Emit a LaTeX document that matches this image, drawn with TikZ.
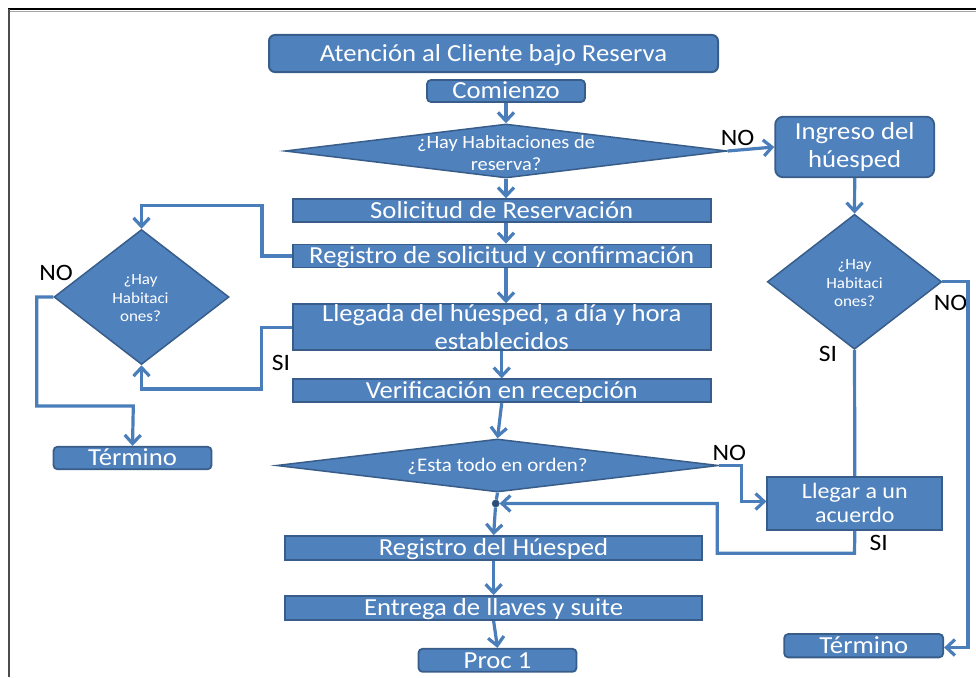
\documentclass[tikz,border=0pt]{standalone}
\usepackage{fontspec}
\setmainfont{Carlito}[FakeStretch=1.09]
\usetikzlibrary{arrows.meta,shapes.geometric}

\definecolor{boxfill}{HTML}{4F81BD}
\definecolor{boxline}{HTML}{385D8A}
\definecolor{wire}{HTML}{4A7EBB}
\definecolor{dotfill}{HTML}{2C4D75}

\newcommand\bigtxt{\fontsize{24.5}{28.6}\selectfont}
\newcommand\midtxt{\fontsize{22}{24}\selectfont}
\newcommand\qtxt{\fontsize{18.7}{22}\selectfont}
\newcommand\qqtxt{\fontsize{19.2}{22}\selectfont}
\newcommand\smalltxt{\fontsize{15.6}{18.5}\selectfont}
\newcommand\lbltxt{\fontsize{23.5}{26}\selectfont}

\tikzset{
  box/.style={draw=boxline, fill=boxfill, line width=1.8pt, text=white,
    inner sep=0pt, font=\bigtxt, align=center},
  oneline/.style={text height=15.8pt, text depth=0pt},
  rbox/.style={box, rounded corners=5pt},
  dia/.style={diamond, draw=boxline, fill=boxfill, line width=1.5pt, inner sep=0pt},
  dtext/.style={text=white, align=center, inner sep=0pt},
  wirestyle/.style={draw=wire, line width=3.2pt},
  arr/.style={wirestyle, -{Straight Barb[length=8.5pt,width=16pt]}},
  lbl/.style={text=black, inner sep=0pt, font=\lbltxt},
}

\begin{document}
\begin{tikzpicture}[x=1pt,y=-1pt]
\useasboundingbox (0,0) rectangle (976,677);

% page frame
\draw[black!35, line width=1pt] (9,11.2) -- (976,11.2);
\draw[black, line width=2pt] (8,9.5) -- (976,9.5);
\draw[black!70, line width=2.2pt] (8.6,9) -- (8.6,677);

% main column
\node[rbox, oneline, rounded corners=6pt, line width=2pt, minimum width=449pt, minimum height=37pt] (title) at (493.5,53.5) {Atención al Cliente bajo Reserva};
\node[rbox, oneline, rounded corners=4pt, minimum width=158pt, minimum height=22pt] (start) at (506,91) {Comienzo};
\node[dia, minimum width=442pt, minimum height=54pt] (d1) at (506,151) {};
\node[dtext, font=\qtxt] (d1t) at (506,153) {¿Hay Habitaciones de\\reserva?};
\node[box, oneline, minimum width=418pt, minimum height=23pt] (sol) at (501.7,210.7) {Solicitud de Reservación};
\node[box, oneline, minimum width=418pt, minimum height=23pt] (reg) at (501.7,256) {Registro de solicitud y confirmación};
\node[box, minimum width=418pt, minimum height=46pt] (lleg) at (501.7,327.2) {Llegada del húesped, a día y hora\\establecidos};
\node[box, oneline, minimum width=418pt, minimum height=23pt] (ver) at (501.7,390.8) {Verificación en recepción};
\node[dia, minimum width=442pt, minimum height=53pt] (d2) at (497.5,465.5) {};
\node[dtext, font=\qqtxt] (d2t) at (497.5,466.5) {¿Esta todo en orden?};
\node[circle, fill=dotfill, draw=boxline, line width=0.8pt, minimum size=7pt, inner sep=0pt] (jn) at (495.7,503.5) {};
\node[box, oneline, minimum width=417pt, minimum height=24pt] (regh) at (493.6,548) {Registro del Húesped};
\node[box, oneline, minimum width=417pt, minimum height=24pt] (ent) at (493.6,608) {Entrega de llaves y suite};
\node[rbox, oneline, rounded corners=4pt, minimum width=158pt, minimum height=23pt] (proc) at (497.5,660.3) {Proc 1};

% right branch
\node[rbox, rounded corners=8pt, minimum width=159pt, minimum height=60.6pt] (ing) at (854.7,147) {Ingreso del\\húesped};
\node[dia, minimum width=174.4pt, minimum height=135pt] (d3) at (854.5,281.8) {};
\node[dtext, font=\smalltxt] (d3t) at (854.5,283.5) {¿Hay\\Habitaci\\ones?};
\node[box, font=\midtxt, minimum width=175pt, minimum height=53.3pt] (acu) at (854.8,503.3) {Llegar a un\\acuerdo};
\node[rbox, oneline, rounded corners=4pt, minimum width=159pt, minimum height=23.3pt] (endr) at (863.7,645.7) {Término};

% left branch
\node[dia, minimum width=175pt, minimum height=135pt] (d4) at (141.5,297) {};
\node[dtext, font=\smalltxt] (d4t) at (140.5,298.5) {¿Hay\\Habitaci\\ones?};
\node[rbox, oneline, rounded corners=4pt, minimum width=158pt, minimum height=22.5pt] (endl) at (132.5,458) {Término};

% branch labels
\node[lbl] (no1) at (737.5,137.5) {NO};
\node[lbl] (no2) at (950.5,302.5) {NO};
\node[lbl] (si1) at (828,354) {SI};
\node[lbl] (no3) at (56,273) {NO};
\node[lbl] (si2) at (281,363) {SI};
\node[lbl] (no4) at (729.3,452.8) {NO};
\node[lbl] (si3) at (878.7,542.5) {SI};

% turning points of the connectors
\coordinate (rA) at (968,281.8);
\coordinate (rB) at (968,647.5);
\coordinate (nA) at (741.7,465.5);
\coordinate (nB) at (741.7,501.5);
\coordinate (sA) at (854.5,553.3);
\coordinate (sB) at (717.3,553.3);
\coordinate (sC) at (717.3,503.5);
\coordinate (lA) at (262,256);
\coordinate (lB) at (262,205.7);
\coordinate (lC) at (141.5,205.7);
\coordinate (mA) at (261.7,327.2);
\coordinate (mB) at (261.7,389);
\coordinate (mC) at (141.5,389);
\coordinate (kA) at (36.7,297);
\coordinate (kB) at (36.7,406);
\coordinate (kC) at (133.3,406);

% main flow
\draw[arr] (start.south) -- (d1.north);
\draw[arr] (d1.south) -- (d1.south |- sol.north);
\draw[arr] (d1.south |- sol.south) -- (d1.south |- reg.north);
\draw[arr] (d1.south |- reg.south) -- (d1.south |- lleg.north);
\draw[arr] (lleg.south) -- (ver.north);
\draw[arr] (ver.south) -- (d2.north);
\draw[wirestyle] (d2.south) -- (jn);
\draw[arr] (jn) -- (regh.north);
\draw[arr] (regh.south) -- (ent.north);
\draw[arr] (ent.south) -- (proc.north);

% right branch
\draw[arr] (d1.east) -- (ing.west);
\draw[arr] (ing.south) -- (d3.north);
\draw[arr] (d3.east) -- (rA) -- (rB) -- (rB -| endr.east);
\draw[wirestyle] (d3.south) -- (acu.north);
\draw[arr] (d2.east) -- (nA) -- (nB) -- (nB -| acu.west);
\draw[arr] (acu.south) -- (sA) -- (sB) -- (sC) -- (jn);

% left branch
\draw[arr] (reg.west) -- (lA) -- (lB) -- (lC) -- (d4.north);
\draw[arr] (lleg.west) -- (mA) -- (mB) -- (mC) -- (d4.south);
\draw[arr] (d4.west) -- (kA) -- (kB) -- (kC) -- (endl.north);
\end{tikzpicture}
\end{document}
